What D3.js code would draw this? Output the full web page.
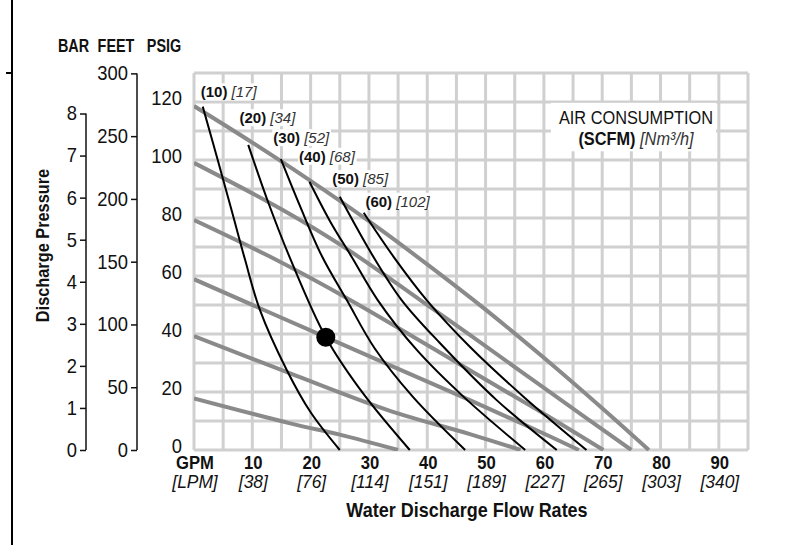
<!DOCTYPE html>
<html>
<head>
<meta charset="utf-8">
<script src="https://cdn.jsdelivr.net/npm/d3@7"></script>
<style>
  body { margin: 0; background: #fff; }
  svg { display: block; }
  text { fill: #111; }
</style>
</head>
<body>
<svg id="chart" width="791" height="545"></svg>
<script>
// flow ticks along the bottom
var gpmTicks = [0, 10, 20, 30, 40, 50, 60, 70, 80, 90];
var gpmLabels = ["GPM", "10", "20", "30", "40", "50", "60", "70", "80", "90"];
var lpmLabels = ["[LPM]", "[38]", "[76]", "[114]", "[151]", "[189]", "[227]", "[265]", "[303]", "[340]"];

// pressure scales on the left
var barTicks = [0, 1, 2, 3, 4, 5, 6, 7, 8];
var feetTicks = [0, 50, 100, 150, 200, 250, 300];
var psigTicks = [0, 20, 40, 60, 80, 100, 120];

// grey performance lines [gpm, psig]
var grayLine1 = [[0, 118.6], [10, 106], [20, 92.8], [30, 78.9], [40, 64], [50, 48.4], [60, 31.8], [70, 14.4], [78, 0]];
var grayLine2 = [[0, 99], [15, 83], [26, 69.6], [38.8, 51.7], [47.3, 39.7], [60.5, 20.7], [75, 0]];
var grayLine3 = [[0, 79.3], [13, 66.7], [27, 51.5], [47.3, 27.5], [60, 12.5], [70.2, 0]];
var grayLine4 = [[0, 58.9], [22.6, 38.9], [47.3, 17.2], [58, 7.5], [66, 0]];
var grayLine5 = [[0, 39.3], [16.5, 26.4], [33.6, 13.5], [47.3, 5.5], [56, 0]];
var grayLine6 = [[0, 17.8], [16.5, 9.2], [25, 5.3], [35, 0]];

// black air consumption curves [gpm, psig]
var scfm10 = [[1.5, 118.4], [4, 100.5], [6.4, 83], [8.7, 66], [11.3, 48.3], [15.9, 27.6], [20, 13], [25, 0]];
var scfm20 = [[9.3, 105.2], [12.8, 85], [16.5, 66], [22.6, 38.9], [29, 19.5], [37, 0]];
var scfm30 = [[14.9, 100.3], [18.2, 84], [21.9, 67], [26.2, 51.7], [31, 35], [37.5, 18.4], [46.5, 0]];
var scfm40 = [[19.8, 92.5], [23.3, 79], [27, 66.7], [31.5, 51.7], [38.2, 34.5], [46.2, 18.4], [56.8, 0]];
var scfm50 = [[25, 87.3], [30.5, 67.5], [35.6, 51.7], [42.2, 36.8], [51.9, 17.2], [62.2, 0]];
var scfm60 = [[29.1, 81.8], [34.2, 66.7], [39.9, 51.7], [47.3, 35.6], [56.5, 18.4], [67.3, 0]];

var scfmLabels = ["(10)", "(20)", "(30)", "(40)", "(50)", "(60)"];
var nm3Labels = ["[17]", "[34]", "[52]", "[68]", "[85]", "[102]"];
var scfmLabelAt = [[1.15, 121.6], [7.8, 112.7], [13.6, 105.8], [18.0, 99.4], [23.7, 91.7], [29.4, 83.9]];

var operatingPoint = [22.6, 38.9];

var FONT = "'Liberation Sans', Arial, sans-serif";
var PSI_PER_BAR = 14.5038;
var FT_PER_PSI = 2.31;

var svg = d3.select("#chart");

var x = d3.scaleLinear().domain([0, 95]).range([194, 748]);
var y = d3.scaleLinear().domain([0, 130]).range([450, 73]);
var yBar = d3.scaleLinear().domain([0, 130 / PSI_PER_BAR]).range([450, 73]);
var yFeet = d3.scaleLinear().domain([0, 130 * FT_PER_PSI]).range([450, 73]);

// narrow the type to look like the condensed face of the original
function squeeze(sel, sx) {
  sel.each(function () {
    var t = d3.select(this);
    var tx = +t.attr("x") || 0, ty = +t.attr("y") || 0;
    t.attr("x", 0).attr("y", 0)
      .attr("transform", "translate(" + tx + "," + ty + ") scale(" + sx + ",1)");
  });
}

// page rule at the far left
svg.append("line").attr("x1", 12).attr("x2", 12).attr("y1", 0).attr("y2", 545)
  .attr("stroke", "#000").attr("stroke-width", 2);
svg.append("line").attr("x1", 6).attr("x2", 12).attr("y1", 73).attr("y2", 73)
  .attr("stroke", "#000").attr("stroke-width", 2);

// grid
var grid = svg.append("g").attr("stroke", "#d0d0d0").attr("stroke-width", 3);
grid.selectAll(".vl")
  .data(d3.range(0, 96, 5))
  .enter().append("line")
  .attr("x1", (d) => x(d)).attr("x2", (d) => x(d))
  .attr("y1", y(130)).attr("y2", y(0));
grid.selectAll(".hl")
  .data(d3.range(0, 131, 10))
  .enter().append("line")
  .attr("x1", x(0)).attr("x2", x(95))
  .attr("y1", (d) => y(d)).attr("y2", (d) => y(d));

svg.append("clipPath").attr("id", "plotClip")
  .append("rect")
  .attr("x", x(0)).attr("y", y(130))
  .attr("width", x(95) - x(0)).attr("height", y(0) - y(130) + 1);

var plot = svg.append("g").attr("clip-path", "url(#plotClip)");

var line = d3.line()
  .x((d) => x(d[0]))
  .y((d) => y(d[1]))
  .curve(d3.curveCatmullRom.alpha(0.5));

var grayLines = [grayLine1, grayLine2, grayLine3, grayLine4, grayLine5, grayLine6];
plot.selectAll(".grayLine")
  .data(grayLines)
  .enter().append("path")
  .attr("class", "grayLine")
  .attr("d", line)
  .attr("fill", "none")
  .attr("stroke", "#8a8a8a")
  .attr("stroke-width", 4);

var scfmCurves = [scfm10, scfm20, scfm30, scfm40, scfm50, scfm60];
plot.selectAll(".scfmCurve")
  .data(scfmCurves)
  .enter().append("path")
  .attr("class", "scfmCurve")
  .attr("d", line)
  .attr("fill", "none")
  .attr("stroke", "#000")
  .attr("stroke-width", 2);

plot.append("circle")
  .attr("cx", x(operatingPoint[0]))
  .attr("cy", y(operatingPoint[1]))
  .attr("r", 9.5)
  .attr("fill", "#000");

// curve labels with white knock-out boxes
var labels = svg.append("g");
scfmLabels.forEach(function (lab, i) {
  var g = labels.append("g");
  var t = g.append("text")
    .attr("x", x(scfmLabelAt[i][0]))
    .attr("y", y(scfmLabelAt[i][1]))
    .attr("font-family", FONT)
    .attr("font-size", "15px");
  t.append("tspan").attr("font-weight", "bold").text(lab);
  t.append("tspan").attr("font-style", "italic").attr("fill", "#333").text(" " + nm3Labels[i]);
  var b = t.node().getBBox();
  g.insert("rect", "text")
    .attr("x", b.x - 1).attr("y", b.y)
    .attr("width", b.width + 2).attr("height", b.height)
    .attr("fill", "#fff");
});

// air consumption legend
var legend = svg.append("g");
var lt = legend.append("text")
  .attr("x", 636).attr("y", 124)
  .attr("text-anchor", "middle")
  .attr("font-family", FONT)
  .attr("font-size", "19px")
  .text("AIR CONSUMPTION");
var lt2 = legend.append("text")
  .attr("x", 636).attr("y", 145)
  .attr("text-anchor", "middle")
  .attr("font-family", FONT)
  .attr("font-size", "19px");
lt2.append("tspan").attr("font-weight", "bold").text("(SCFM)");
lt2.append("tspan").attr("font-style", "italic").attr("fill", "#333").text(" [Nm³/h]");
squeeze(legend.selectAll("text"), 0.86);
var r1 = lt.node().getBoundingClientRect(), r2 = lt2.node().getBoundingClientRect();
var lx0 = Math.min(r1.left, r2.left) - 8, lx1 = Math.max(r1.right, r2.right) + 3;
legend.insert("rect", "text")
  .attr("x", lx0).attr("y", r1.top - 4)
  .attr("width", lx1 - lx0).attr("height", r2.bottom - r1.top + 6)
  .attr("fill", "#fff");

// left axes
function styleAxis(g) {
  g.select(".domain").attr("stroke", "#111").attr("stroke-width", 1.5);
  g.selectAll(".tick line").attr("stroke", "#111").attr("stroke-width", 1.5);
  g.selectAll(".tick text")
    .attr("font-family", FONT)
    .attr("font-size", "20px")
    .attr("fill", "#111")
    .call(squeeze, 0.92);
}

svg.append("g")
  .attr("transform", "translate(86,0)")
  .call(d3.axisLeft(yBar).tickValues(barTicks).tickSize(6).tickSizeOuter(0).tickPadding(3))
  .call(styleAxis)
  .select(".domain").attr("d", "M0," + yBar(8) + "V" + yBar(0));

svg.append("g")
  .attr("transform", "translate(137,0)")
  .call(d3.axisLeft(yFeet).tickValues(feetTicks).tickSize(6).tickSizeOuter(0).tickPadding(3))
  .call(styleAxis)
  .select(".domain").attr("d", "M0," + yFeet(300) + "V" + yFeet(0));

svg.append("g").selectAll("text")
  .data(psigTicks)
  .enter().append("text")
  .attr("x", 182)
  .attr("y", (d) => y(d) + 2.5)
  .attr("text-anchor", "end")
  .attr("font-family", FONT)
  .attr("font-size", "20px")
  .text((d) => d)
  .call(squeeze, 0.92);

// unit headers
var heads = [{ t: "BAR", x: 73.5 }, { t: "FEET", x: 116 }, { t: "PSIG", x: 164 }];
svg.selectAll(".unitHead")
  .data(heads)
  .enter().append("text")
  .attr("class", "unitHead")
  .attr("x", (d) => d.x).attr("y", 52)
  .attr("text-anchor", "middle")
  .attr("font-family", FONT)
  .attr("font-weight", "bold")
  .attr("font-size", "18px")
  .text((d) => d.t)
  .call(squeeze, 0.8);

svg.append("text")
  .attr("transform", "translate(48.5,245.5) rotate(-90) scale(0.86,1)")
  .attr("text-anchor", "middle")
  .attr("font-family", FONT)
  .attr("font-weight", "bold")
  .attr("font-size", "19px")
  .text("Discharge Pressure");

// bottom axis labels
svg.selectAll(".gpmLab")
  .data(gpmTicks)
  .enter().append("text")
  .attr("class", "gpmLab")
  .attr("x", (d) => x(d) + 1).attr("y", 469)
  .attr("text-anchor", "middle")
  .attr("font-family", FONT)
  .attr("font-weight", "bold")
  .attr("font-size", "18.5px")
  .text((d, i) => gpmLabels[i])
  .call(squeeze, 0.9);

svg.selectAll(".lpmLab")
  .data(gpmTicks)
  .enter().append("text")
  .attr("class", "lpmLab")
  .attr("x", (d) => x(d) + 1).attr("y", 488)
  .attr("text-anchor", "middle")
  .attr("font-family", FONT)
  .attr("font-style", "italic")
  .attr("font-size", "18.5px")
  .attr("fill", "#333")
  .text((d, i) => lpmLabels[i])
  .call(squeeze, 0.94);

svg.append("text")
  .attr("x", 467).attr("y", 517)
  .attr("text-anchor", "middle")
  .attr("font-family", FONT)
  .attr("font-weight", "bold")
  .attr("font-size", "20px")
  .text("Water Discharge Flow Rates")
  .call(squeeze, 0.9);
</script>
</body>
</html>
